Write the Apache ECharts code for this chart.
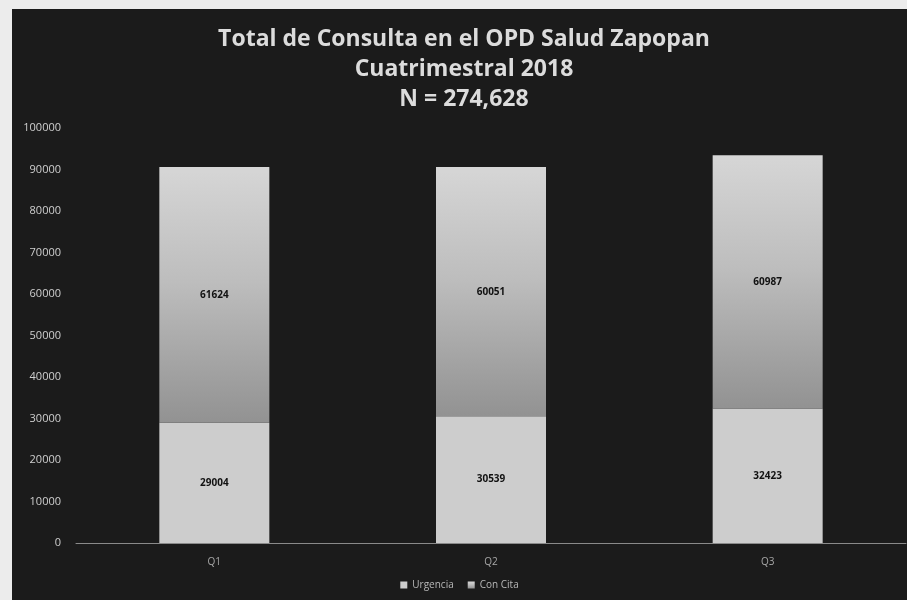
<!DOCTYPE html>
<html>
<head>
<meta charset="utf-8">
<script src="https://cdn.jsdelivr.net/npm/echarts@6/dist/echarts.min.js"></script>
<style>
  html, body { margin: 0; padding: 0; background: #ececec; }
  #chart { position: absolute; left: 12px; top: 9px; width: 895px; height: 591px; }
</style>
</head>
<body>
<div id="chart"></div>
<script>
const categories = ["Q1", "Q2", "Q3"];
const urgencia = [29004, 30539, 32423];
const conCita = [61624, 60051, 60987];
const yTicks = [0, 10000, 20000, 30000, 40000, 50000, 60000, 70000, 80000, 90000, 100000];

const myChart = echarts.init(document.getElementById("chart"));

myChart.setOption({
  backgroundColor: "#1b1b1b",
  title: {
    text: "Total de Consulta en el OPD Salud Zapopan\nCuatrimestral 2018\nN = 274,628",
    left: 447,
    textAlign: "center",
    top: 10,
    textStyle: {
      color: "#dcdcdc",
      fontFamily: "Open Sans",
      fontWeight: "bold",
      fontSize: 23,
      lineHeight: 30,
    },
  },
  legend: {
    data: ["Urgencia", "Con Cita"],
    bottom: 5,
    left: "center",
    itemWidth: 7,
    itemHeight: 7,
    itemGap: 14,
    icon: "rect",
    textStyle: { color: "#b8b8b8", fontSize: 10, fontFamily: "Open Sans" },
  },
  grid: {
    left: 64,
    right: 1,
    top: 119,
    bottom: 57,
  },
  xAxis: {
    type: "category",
    data: categories,
    axisLine: { lineStyle: { color: "#8a8a8a", width: 1 } },
    axisTick: { show: false },
    axisLabel: { color: "#a8a8a8", fontSize: 10, margin: 14, fontFamily: "Open Sans" },
  },
  yAxis: {
    type: "value",
    min: yTicks[0],
    max: yTicks[yTicks.length - 1],
    interval: 10000,
    splitLine: { show: false },
    axisLine: { show: false },
    axisTick: { show: false },
    axisLabel: {
      color: "#cfcfcf",
      fontSize: 11,
      margin: 15,
      fontFamily: "Open Sans",
      formatter: function (v) { return String(v); },
    },
  },
  series: [
    {
      name: "Urgencia",
      type: "bar",
      stack: "Total",
      barWidth: 110,
      data: urgencia,
      itemStyle: { color: "#cdcdcd" },
      label: {
        show: true,
        position: "inside",
        color: "#111",
        fontWeight: "bold",
        fontSize: 10,
        fontFamily: "Open Sans",
      },
    },
    {
      name: "Con Cita",
      type: "bar",
      stack: "Total",
      barWidth: 110,
      data: conCita,
      itemStyle: {
        color: new echarts.graphic.LinearGradient(0, 0, 0, 1, [
          { offset: 0, color: "#d6d6d6" },
          { offset: 0.45, color: "#bdbdbd" },
          { offset: 1, color: "#929292" },
        ]),
      },
      label: {
        show: true,
        position: "inside",
        color: "#111",
        fontWeight: "bold",
        fontSize: 10,
        fontFamily: "Open Sans",
      },
    },
  ],
});
</script>
</body>
</html>
